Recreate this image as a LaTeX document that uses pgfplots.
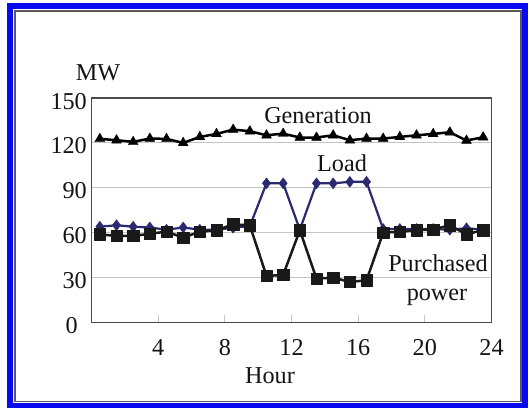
\documentclass[border=0pt]{standalone}
\usepackage{fontspec}
\setmainfont{Liberation Serif}
\usepackage{pgfplots}
\pgfplotsset{compat=1.18}

\definecolor{framegray}{HTML}{5A5A5A}
\definecolor{axisgray}{HTML}{4A4A4A}
\definecolor{gridgray}{HTML}{C4C4C4}
\definecolor{loadnavy}{HTML}{2B2A70}
\definecolor{frameblue}{HTML}{0A0AF0}
\newcommand{\chartfont}{\fontsize{24.2pt}{29pt}\selectfont}

\begin{document}
\begin{tikzpicture}[x=1pt,y=1pt]
\useasboundingbox (0,0) rectangle (529,408);
\fill[white] (0,0) rectangle (529,408);
% double frame around the figure
\draw[frameblue, line width=5.5pt] (10,2.75) rectangle (524.75,402);
\draw[framegray, line width=1.2pt] (15,6.5) rectangle (521,397);

\begin{axis}[
  at={(91.5pt,85.5pt)}, anchor=south west,
  scale only axis, width=400pt, height=224.5pt,
  xmin=0, xmax=24, ymin=0, ymax=150,
  xtick={4,8,...,24}, ytick={0,30,...,150},
  yticklabels={0\hspace*{9pt},30,60,90,120,150},
  tick pos=left, tick align=inside,
  major tick length=8pt,
  xtick style={draw=gridgray, line width=0.8pt},
  ytick style={draw=none},
  ymajorgrids, grid style={gridgray, line width=1pt},
  axis line style={axisgray, line width=1.5pt},
  every tick label/.append style={font=\chartfont, inner sep=0pt, text=black!92},
  xticklabel style={anchor=base, yshift=-32.5pt},
  yticklabel style={anchor=base east, xshift=-4.5pt, yshift=-11pt},
  /pgf/number format/assume math mode=true,
  clip=false,
  line join=round,
]

% Generation
\addplot[black, line width=2.5pt, mark=triangle*, mark size=5.7pt,
  mark options={line width=0.4pt}] coordinates {
  (0.5,122.7) (1.5,121.8) (2.5,120.7) (3.5,122.9) (4.5,122.7) (5.5,120.0)
  (6.5,124.0) (7.5,126.0) (8.5,128.9) (9.5,127.8) (10.5,125.1) (11.5,126.2)
  (12.5,123.6) (13.5,123.6) (14.5,125.1) (15.5,121.8) (16.5,122.9) (17.5,122.9)
  (18.5,124.0) (19.5,125.1) (20.5,126.0) (21.5,127.1) (22.5,121.6) (23.5,123.8)
};

% Load
\addplot[loadnavy, line width=2.2pt, mark=diamond*, mark size=5.5pt,
  mark options={line width=0.4pt, fill=loadnavy}] coordinates {
  (0.5,64.0) (1.5,65.0) (2.5,64.0) (3.5,63.5) (4.5,62.0) (5.5,63.5)
  (6.5,62.0) (7.5,62.0) (8.5,63.3) (9.5,64.4) (10.5,93.0) (11.5,93.0)
  (12.5,62.0) (13.5,93.0) (14.5,93.0) (15.5,94.0) (16.5,94.0) (17.5,62.5)
  (18.5,62.5) (19.5,62.5) (20.5,62.5) (21.5,62.0) (22.5,63.0) (23.5,62.0)
};

% Purchased power
\addplot[black!90, line width=2.5pt, mark=square*, mark size=5.7pt,
  mark options={line width=0.4pt}] coordinates {
  (0.5,58.9) (1.5,57.8) (2.5,57.8) (3.5,59.3) (4.5,60.7) (5.5,56.7)
  (6.5,60.7) (7.5,61.6) (8.5,65.6) (9.5,64.9) (10.5,31.1) (11.5,31.8)
  (12.5,61.6) (13.5,29.3) (14.5,30.0) (15.5,27.1) (16.5,28.2) (17.5,60.0)
  (18.5,60.7) (19.5,61.6) (20.5,62.2) (21.5,64.9) (22.5,58.9) (23.5,61.8)
};

\node[anchor=base, font=\chartfont, text=black!92] at (axis cs:13.59,133.1) {Generation};
\node[anchor=base, font=\chartfont, text=black!92] at (axis cs:15.03,100.8) {Load};
\node[anchor=base, font=\chartfont, text=black!92] at (axis cs:20.79,34.4) {Purchased};
\node[anchor=base, font=\chartfont, text=black!92] at (axis cs:20.73,14.4) {power};
\node[anchor=base, font=\chartfont, text=black!92] at (axis cs:0.39,162.0) {MW};
\node[anchor=base, font=\chartfont, text=black!92] at (axis cs:10.71,-40.6) {Hour};
\end{axis}
\end{tikzpicture}
\end{document}
